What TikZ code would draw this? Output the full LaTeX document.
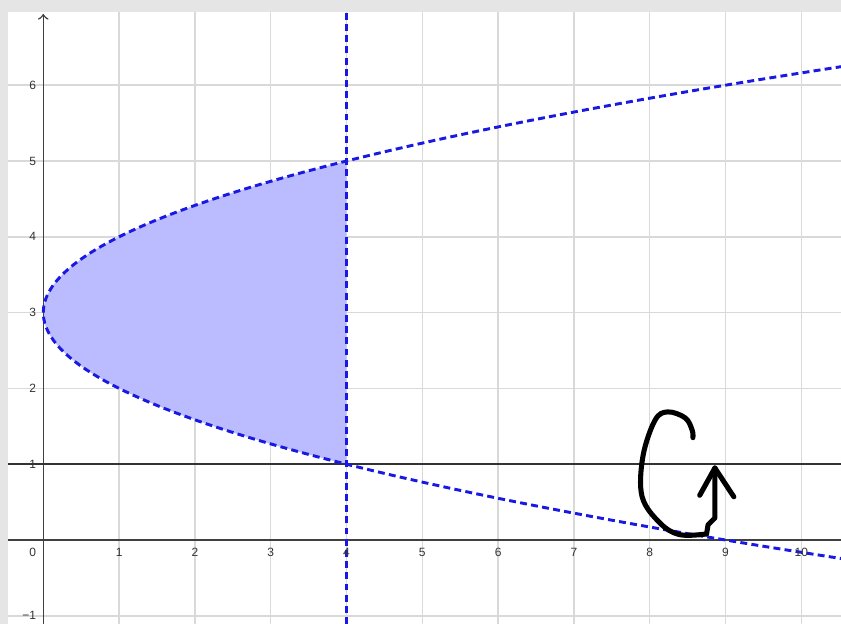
\documentclass[tikz,border=0pt]{standalone}
\usepackage{fontspec}
\setmainfont{Liberation Sans}
\definecolor{regionfill}{RGB}{187,187,255}
\definecolor{boundblue}{RGB}{25,25,225}
\begin{document}
\begin{tikzpicture}[>=to,
    gridline/.style={gray!30, line width=0.55pt},
    axisline/.style={black!75, line width=0.55pt},
    bound/.style={boundblue, line width=1.1pt, dash pattern=on 2.6pt off 1.6pt},
    ticklabel/.style={font=\fontsize{4.5}{5}\selectfont, text=black!80, inner sep=0.5pt},
    pen/.style={line width=1.9pt, line cap=round, line join=round}]
    \useasboundingbox (-0.571,-1.108) rectangle (10.524,7.124);
    \fill[gray!20] (-0.571,-1.108) rectangle (10.524,7.124);
    \fill[white] (-0.466,-1.108) rectangle (10.524,6.966);

    \begin{scope}
        \clip (-0.466,-1.108) rectangle (10.524,6.966);
        \foreach \i in {1,...,10}
            \draw[gridline] (\i,-1.108) -- (\i,6.966);
        \foreach \j in {-1,1,2,3,4,5,6}
            \draw[gridline] (-0.466,\j) -- (10.524,\j);

        \fill[regionfill] plot[domain=1:5, samples=60] ({(\x-3)^2},\x) -- cycle;

        \draw[->, axisline] (-0.466,0) -- (10.8,0);
        \draw[->, axisline] (0,-1.108) -- (0,6.94);
        \draw[black!80, line width=0.75pt] (-0.466,1) -- (10.524,1);

        \draw[bound] plot[domain=-0.3:6.3, samples=120] ({(\x-3)^2},\x);
        \draw[bound] (4,-1.108) -- (4,6.966);
    \end{scope}

    \node[ticklabel, anchor=north east] (xl0) at (-0.07,-0.08) {0};
    \foreach \i in {1,...,10}
        \node[ticklabel, anchor=north] (xl\i) at (\i,-0.08) {\i};
    \foreach \j in {1,...,6}
        \node[ticklabel, anchor=east] (yl\j) at (-0.07,\j) {\j};
    \node[ticklabel, anchor=east] (ylm1) at (-0.07,-1) {−1};

    \draw[pen] plot[smooth, tension=0.6] coordinates {
        (8.57,1.35) (8.56,1.45) (8.47,1.61) (8.24,1.69) (8.07,1.58)
        (7.91,1.10) (7.90,0.57) (8.14,0.22) (8.40,0.07) (8.75,0.08)};
    \draw[pen] (8.75,0.08) -- (8.77,0.20) -- (8.86,0.29) -- (8.86,0.95);
    \draw[pen] (8.66,0.59) -- (8.86,0.95) -- (9.11,0.57);
\end{tikzpicture}
\end{document}
